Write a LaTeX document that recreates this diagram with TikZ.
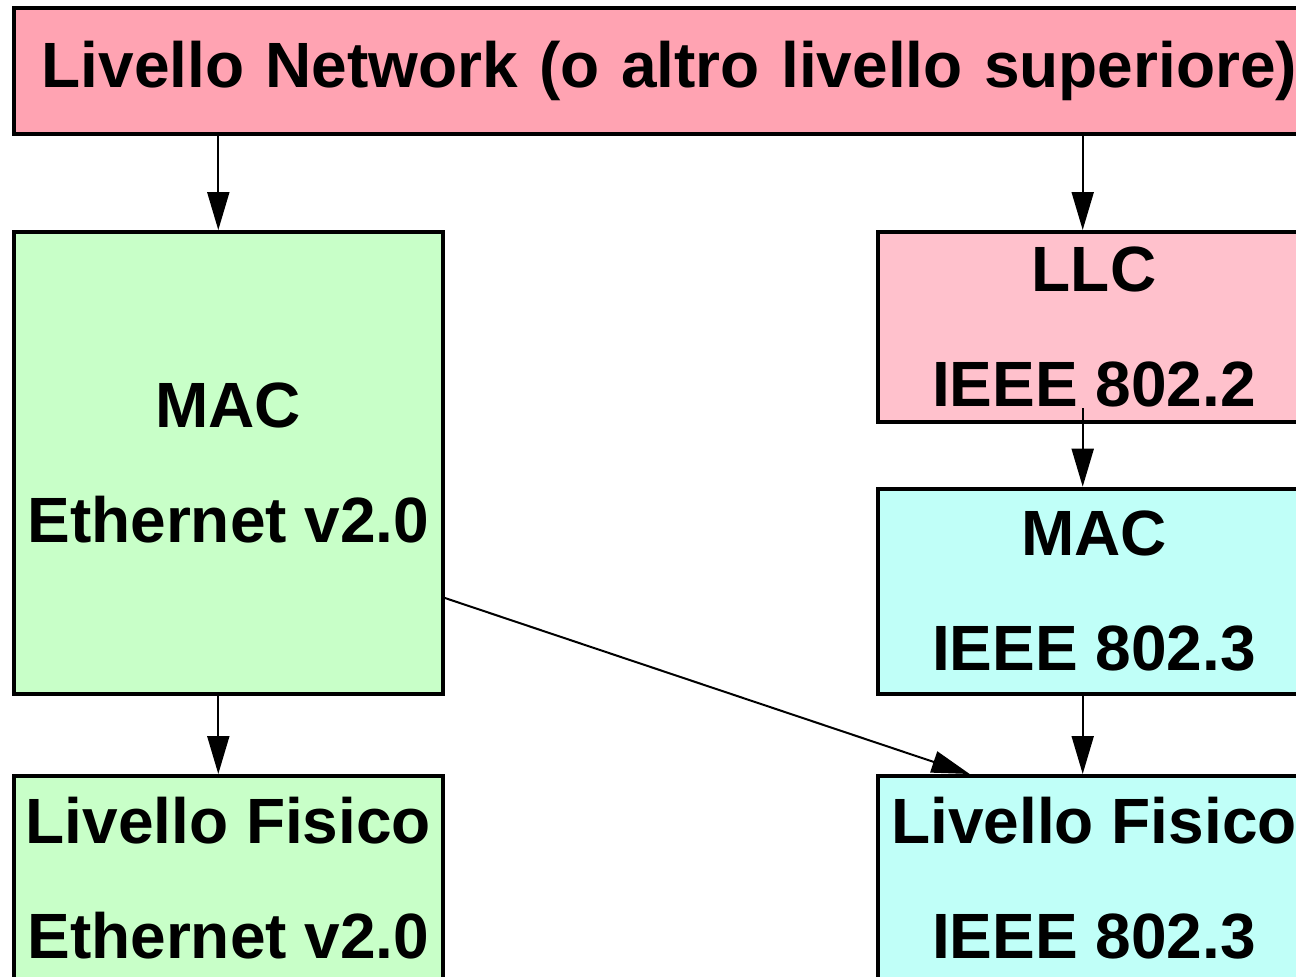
\documentclass[tikz,border=0pt]{standalone}
\usepackage{fontspec}
\setmainfont{Liberation Sans}
\usetikzlibrary{arrows.meta}

\definecolor{netpink}{RGB}{255,163,178}
\definecolor{llcpink}{RGB}{255,193,204}
\definecolor{ethgreen}{RGB}{200,255,200}
\definecolor{ieeecyan}{RGB}{192,255,248}

\tikzset{
  layer/.style={draw, line width=4pt, rectangle, inner sep=0pt, align=center,
    font=\fontsize{64}{115}\selectfont\bfseries},
  conn/.style={line width=2pt, -{Triangle[length=38pt,width=22pt]}}
}

\begin{document}
\begin{tikzpicture}[x=1pt,y=-1pt]
  \useasboundingbox (0,0) rectangle (1296,977);
  \clip (0,0) rectangle (1296,977);

  % livello superiore
  \node[layer, fill=netpink, text width=1260pt, inner xsep=28pt, align=left,
    minimum height=125.7pt] (net) at (671.7,70.85)
    {Livello Network (o altro livello superiore)};

  % colonna Ethernet v2.0
  \node[layer, fill=ethgreen, minimum width=428.7pt, minimum height=461.7pt]
    (macL) at (228.3,462.9) {MAC\\Ethernet v2.0};
  \node[layer, fill=ethgreen, minimum width=428.7pt, minimum height=204pt]
    (fisL) at (228.3,878) {Livello Fisico\\Ethernet v2.0};

  % colonna IEEE
  \node[layer, fill=llcpink, minimum width=432.6pt, minimum height=190pt]
    (llc) at (1094,327) {LLC\\IEEE 802.2};
  \node[layer, fill=ieeecyan, minimum width=432.6pt, minimum height=205pt]
    (macR) at (1094,591.2) {MAC\\IEEE 802.3};
  \node[layer, fill=ieeecyan, minimum width=432.6pt, minimum height=204pt]
    (fisR) at (1094,878) {Livello Fisico\\IEEE 802.3};

  \coordinate (colL) at (218.3,0);
  \coordinate (colR) at (1082.7,0);

  % frecce
  \draw[conn] (net.south -| colL) -- (macL.north -| colL);
  \draw[conn] (macL.south -| colL) -- (fisL.north -| colL);
  \draw[conn] (net.south -| colR) -- (llc.north -| colR);
  \draw[conn, shorten <=-16pt] (llc.south -| colR) -- (macR.north -| colR);
  \draw[conn] (macR.south -| colR) -- (fisR.north -| colR);
  \draw[conn] ([yshift=-135pt]macL.east) -- ([xshift=94pt]fisR.north west);
\end{tikzpicture}
\end{document}
